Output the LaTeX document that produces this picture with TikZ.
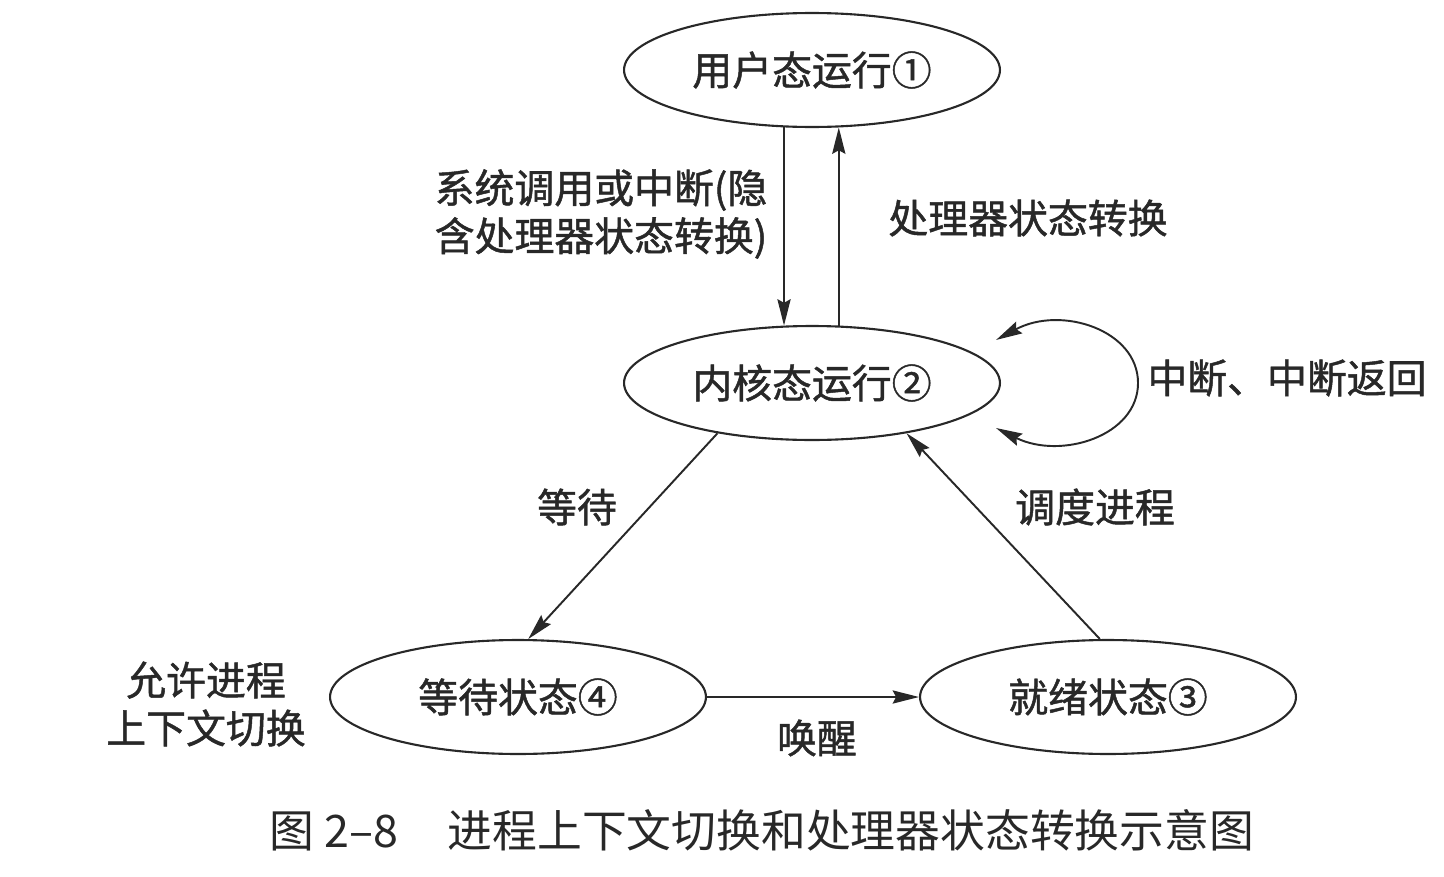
\documentclass[tikz,border=0pt]{standalone}
\usepackage{fontspec}
\usetikzlibrary{shapes.geometric,arrows.meta,calc}
\newfontfamily\cjk{Noto Sans CJK SC}
\newfontfamily\cjkheavy[FakeBold=1.2]{Noto Sans CJK SC}
\definecolor{ink}{RGB}{40,40,40}
\begin{document}
\begin{tikzpicture}[x=0.02cm,y=-0.02cm,
  state/.style={ellipse,draw=ink,line width=1.2pt,minimum width=7.52cm,minimum height=2.28cm,
    inner sep=0pt,font=\cjkheavy\fontsize{22.7}{27.3}\selectfont,text=ink},
  lbl/.style={font=\cjkheavy\fontsize{22.7}{27.3}\selectfont,text=ink,inner sep=0pt,align=center},
  captionstyle/.style={font=\cjk\fontsize{25.5}{30}\selectfont,text=ink,inner sep=0pt},
  tip/.tip={Stealth[length=15pt,width=7.5pt,inset=2pt]},
  conn/.style={draw=ink,line width=1.1pt,-tip},
  twoway/.style={draw=ink,line width=1.1pt,tip-tip},
]
\useasboundingbox (0,0) rectangle (1444,876);

% process states
\node[state] (user)  at (812,70)  {用户态运行①};
\node[state] (kern)  at (812,383) {内核态运行②};
\node[state] (wait)  at (518,697) {等待状态④};
\node[state] (ready) at (1108,697) {就绪状态③};

% transitions between user and kernel mode
\draw[conn] (user.244) -- (kern.116);
\draw[conn] (kern.65) -- (user.295);

% state transitions
\draw[conn] (kern.208) -- (wait.80);
\draw[conn] (ready.98) -- (kern.332);
\draw[conn] (wait.east) -- (ready.west);

% interrupt / interrupt-return loop on the kernel state
\coordinate (loopin)  at ($(kern.east)+(-5,-43)$);
\coordinate (loopout) at ($(kern.east)+(-5,45)$);
\coordinate (loopR)   at ($(kern.east)+(137,0)$);
\draw[twoway] (loopin) .. controls ($(kern.east)+(60,-78)$) and ($(kern.east)+(137,-53)$) .. (loopR)
  .. controls ($(kern.east)+(137,53)$) and ($(kern.east)+(60,77)$) .. (loopout);

% labels
\node[lbl,align=left] (callLbl) at (601,214) {系统调用或中断(隐\\含处理器状态转换)};
\node[lbl] (pswLbl)   at (1028,218) {处理器状态转换};
\node[lbl] (intLbl)   at (1287,378) {中断、中断返回};
\node[lbl] (waitLbl)  at (577,507)  {等待};
\node[lbl] (schedLbl) at (1095,507) {调度进程};
\node[lbl] (wakeLbl)  at (817,738)  {唤醒};
\node[lbl] (ctxLbl)   at (206,704)  {允许进程\\上下文切换};

% caption
\node[captionstyle] (caption) at (762,830) {图 2–8\hspace{1.1em}进程上下文切换和处理器状态转换示意图};
\end{tikzpicture}
\end{document}
